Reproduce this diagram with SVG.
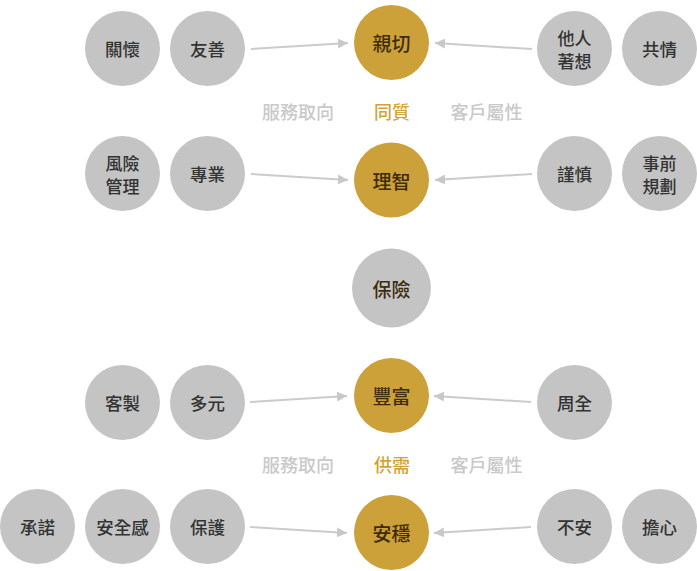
<svg xmlns="http://www.w3.org/2000/svg" width="697" height="571" viewBox="0 0 697 571">
  <style>
    text { font-family: "Noto Sans CJK TC", "Noto Sans CJK SC", sans-serif; text-anchor: middle; dominant-baseline: central; }
    .leaf circle { fill: #c4c4c4; }
    .leaf text { fill: #333333; font-size: 17.5px; font-weight: 500; }
    .leaf text.ln { font-size: 17px; }
    .core circle { fill: #cca13a; }
    .core text { fill: #3d2b0c; font-size: 19px; font-weight: 500; }
    .hub circle { fill: #c4c4c4; }
    .hub text { fill: #3d2b0c; font-size: 19px; font-weight: 500; }
    .axis { fill: #c9c9c9; font-size: 18px; font-weight: 500; }
    .axis.mid { fill: #d2a336; }
    .conn line { stroke: #cbcbcb; stroke-width: 2; marker-end: url(#tip); }
  </style>
  <defs>
    <marker id="tip" viewBox="0 0 10 10" refX="10" refY="5" markerWidth="10" markerHeight="10" markerUnits="userSpaceOnUse" orient="auto">
      <path d="M0,0 L10,5 L0,10 Z" fill="#c8c8c8"/>
    </marker>
  </defs>

  <rect width="697" height="571" fill="#ffffff"/>

  <!-- connectors -->
  <g id="connectors" class="conn">
    <line x1="251" y1="49" x2="348" y2="43"/>
    <line x1="532" y1="49" x2="435" y2="43"/>
    <line x1="251" y1="174" x2="348" y2="180"/>
    <line x1="532" y1="174" x2="435" y2="180"/>
    <line x1="250" y1="402" x2="347" y2="396"/>
    <line x1="531" y1="402" x2="434" y2="396"/>
    <line x1="250" y1="527" x2="347" y2="533"/>
    <line x1="531" y1="527" x2="434" y2="533"/>
  </g>

  <!-- row 1 -->
  <g id="n-guanhuai" class="leaf"><circle cx="122.5" cy="48.5" r="37.5"/><text x="122.5" y="48.5">關懷</text></g>
  <g id="n-youshan" class="leaf"><circle cx="207.5" cy="48.5" r="37.5"/><text x="207.5" y="48.5">友善</text></g>
  <g id="n-qinqie" class="core"><circle cx="391.5" cy="42.5" r="37.5"/><text x="391.5" y="42.5">親切</text></g>
  <g id="n-tarenzhuxiang" class="leaf"><circle cx="574.5" cy="48.5" r="37.5"/><text class="ln" x="574.5" y="37">他人</text><text class="ln" x="574.5" y="60">著想</text></g>
  <g id="n-gongqing" class="leaf"><circle cx="659.5" cy="48.5" r="37.5"/><text x="659.5" y="48.5">共情</text></g>

  <!-- axis labels 1 -->
  <text class="axis" x="298" y="111">服務取向</text>
  <text class="axis mid" x="392" y="111">同質</text>
  <text class="axis" x="486.5" y="111">客戶屬性</text>

  <!-- row 2 -->
  <g id="n-fengxianguanli" class="leaf"><circle cx="122.5" cy="173.5" r="37.5"/><text class="ln" x="122.5" y="162">風險</text><text class="ln" x="122.5" y="185">管理</text></g>
  <g id="n-zhuanye" class="leaf"><circle cx="207.5" cy="173.5" r="37.5"/><text x="207.5" y="173.5">專業</text></g>
  <g id="n-lizhi" class="core"><circle cx="391.5" cy="180" r="37.5"/><text x="391.5" y="180">理智</text></g>
  <g id="n-jinshen" class="leaf"><circle cx="574.5" cy="173.5" r="37.5"/><text x="574.5" y="173.5">謹慎</text></g>
  <g id="n-shiqianguihua" class="leaf"><circle cx="659.5" cy="173.5" r="37.5"/><text class="ln" x="659.5" y="162">事前</text><text class="ln" x="659.5" y="185">規劃</text></g>

  <!-- hub -->
  <g id="n-baoxian" class="hub"><circle cx="391.5" cy="288" r="39.5"/><text x="391.5" y="288">保險</text></g>

  <!-- row 3 -->
  <g id="n-kezhi" class="leaf"><circle cx="122.5" cy="402.5" r="37.5"/><text x="122.5" y="402.5">客製</text></g>
  <g id="n-duoyuan" class="leaf"><circle cx="207.5" cy="402.5" r="37.5"/><text x="207.5" y="402.5">多元</text></g>
  <g id="n-fengfu" class="core"><circle cx="391.5" cy="395.5" r="37.5"/><text x="391.5" y="395.5">豐富</text></g>
  <g id="n-zhouquan" class="leaf"><circle cx="574.5" cy="402.5" r="37.5"/><text x="574.5" y="402.5">周全</text></g>

  <!-- axis labels 2 -->
  <text class="axis" x="298" y="464">服務取向</text>
  <text class="axis mid" x="392" y="464">供需</text>
  <text class="axis" x="486.5" y="464">客戶屬性</text>

  <!-- row 4 -->
  <g id="n-chengnuo" class="leaf"><circle cx="37.5" cy="526.5" r="37.5"/><text x="37.5" y="526.5">承諾</text></g>
  <g id="n-anquangan" class="leaf"><circle cx="122.5" cy="526.5" r="37.5"/><text x="122.5" y="526.5">安全感</text></g>
  <g id="n-baohu" class="leaf"><circle cx="207.5" cy="526.5" r="37.5"/><text x="207.5" y="526.5">保護</text></g>
  <g id="n-anwen" class="core"><circle cx="391.5" cy="532.5" r="37.5"/><text x="391.5" y="532.5">安穩</text></g>
  <g id="n-buan" class="leaf"><circle cx="574.5" cy="526.5" r="37.5"/><text x="574.5" y="526.5">不安</text></g>
  <g id="n-danxin" class="leaf"><circle cx="659.5" cy="526.5" r="37.5"/><text x="659.5" y="526.5">擔心</text></g>
</svg>
